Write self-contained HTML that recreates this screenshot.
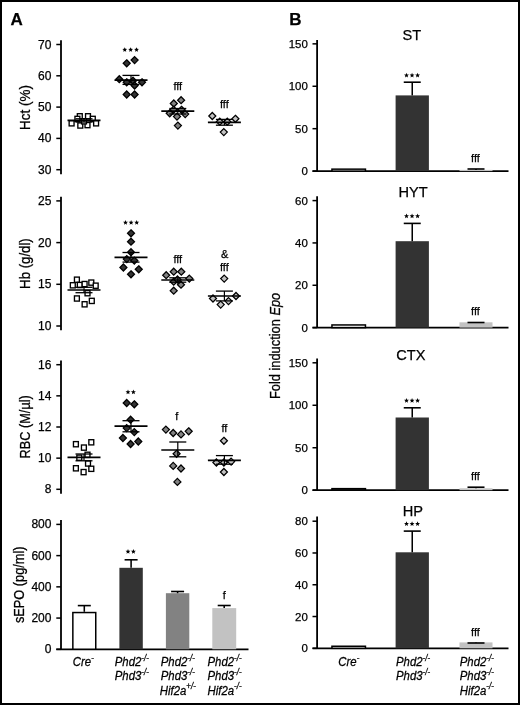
<!DOCTYPE html><html><head><meta charset="utf-8"><style>html,body{margin:0;padding:0;background:#fff;}svg{display:block;will-change:transform;}text{font-family:"Liberation Sans", sans-serif;fill:#000;stroke:#000;stroke-width:0.25px;}</style></head><body>
<svg width="520" height="705" viewBox="0 0 520 705">
<rect x="0" y="0" width="520" height="705" fill="#fff"/>
<rect x="1" y="1" width="518" height="703" fill="none" stroke="#000" stroke-width="2"/>
<text x="10.50" y="25.30" font-size="17" text-anchor="start" font-weight="bold">A</text>
<text x="289.30" y="25.30" font-size="17" text-anchor="start" font-weight="bold">B</text>
<line x1="61.00" y1="40.30" x2="61.00" y2="174.30" stroke="#000" stroke-width="1.8"/>
<line x1="56.30" y1="44.50" x2="61.00" y2="44.50" stroke="#000" stroke-width="1.5"/>
<text x="51.45" y="48.50" font-size="12" text-anchor="end" >70</text>
<line x1="56.30" y1="75.80" x2="61.00" y2="75.80" stroke="#000" stroke-width="1.5"/>
<text x="51.45" y="79.80" font-size="12" text-anchor="end" >60</text>
<line x1="56.30" y1="107.10" x2="61.00" y2="107.10" stroke="#000" stroke-width="1.5"/>
<text x="51.45" y="111.10" font-size="12" text-anchor="end" >50</text>
<line x1="56.30" y1="138.40" x2="61.00" y2="138.40" stroke="#000" stroke-width="1.5"/>
<text x="51.45" y="142.40" font-size="12" text-anchor="end" >40</text>
<line x1="56.30" y1="169.70" x2="61.00" y2="169.70" stroke="#000" stroke-width="1.5"/>
<text x="51.45" y="173.70" font-size="12" text-anchor="end" >30</text>
<text transform="translate(30.40,107.50) rotate(-90) scale(1,1.13)" font-size="13.3" text-anchor="middle" textLength="44.8" lengthAdjust="spacingAndGlyphs">Hct (%)</text>
<rect x="69.15" y="120.70" width="4.9" height="5.2" fill="#fff" stroke="#000" stroke-width="1.35"/>
<rect x="77.35" y="113.70" width="4.9" height="5.2" fill="#fff" stroke="#000" stroke-width="1.35"/>
<rect x="85.55" y="113.70" width="4.9" height="5.2" fill="#fff" stroke="#000" stroke-width="1.35"/>
<rect x="74.95" y="116.30" width="4.9" height="5.2" fill="#fff" stroke="#000" stroke-width="1.35"/>
<rect x="90.35" y="116.30" width="4.9" height="5.2" fill="#fff" stroke="#000" stroke-width="1.35"/>
<rect x="77.85" y="122.90" width="4.9" height="5.2" fill="#fff" stroke="#000" stroke-width="1.35"/>
<rect x="85.05" y="122.50" width="4.9" height="5.2" fill="#fff" stroke="#000" stroke-width="1.35"/>
<rect x="93.65" y="120.70" width="4.9" height="5.2" fill="#fff" stroke="#000" stroke-width="1.35"/>
<rect x="81.55" y="118.70" width="4.9" height="5.2" fill="#fff" stroke="#000" stroke-width="1.35"/>
<line x1="67.50" y1="120.40" x2="100.50" y2="120.40" stroke="#000" stroke-width="1.7"/>
<line x1="84.00" y1="118.80" x2="84.00" y2="122.00" stroke="#000" stroke-width="1.2"/>
<line x1="75.50" y1="118.80" x2="92.50" y2="118.80" stroke="#000" stroke-width="1.3"/>
<line x1="75.50" y1="122.00" x2="92.50" y2="122.00" stroke="#000" stroke-width="1.3"/>
<path d="M126.70 59.80L130.20 63.30L126.70 66.80L123.20 63.30Z" fill="#333333" stroke="#000" stroke-width="1.25"/>
<path d="M134.60 56.60L138.10 60.10L134.60 63.60L131.10 60.10Z" fill="#333333" stroke="#000" stroke-width="1.25"/>
<path d="M119.30 75.70L122.80 79.20L119.30 82.70L115.80 79.20Z" fill="#333333" stroke="#000" stroke-width="1.25"/>
<path d="M126.70 78.80L130.20 82.30L126.70 85.80L123.20 82.30Z" fill="#333333" stroke="#000" stroke-width="1.25"/>
<path d="M133.00 77.20L136.50 80.70L133.00 84.20L129.50 80.70Z" fill="#333333" stroke="#000" stroke-width="1.25"/>
<path d="M142.00 78.80L145.50 82.30L142.00 85.80L138.50 82.30Z" fill="#333333" stroke="#000" stroke-width="1.25"/>
<path d="M134.60 82.00L138.10 85.50L134.60 89.00L131.10 85.50Z" fill="#333333" stroke="#000" stroke-width="1.25"/>
<path d="M126.70 91.00L130.20 94.50L126.70 98.00L123.20 94.50Z" fill="#333333" stroke="#000" stroke-width="1.25"/>
<path d="M134.60 91.00L138.10 94.50L134.60 98.00L131.10 94.50Z" fill="#333333" stroke="#000" stroke-width="1.25"/>
<line x1="114.50" y1="80.20" x2="147.50" y2="80.20" stroke="#000" stroke-width="1.7"/>
<line x1="131.00" y1="75.40" x2="131.00" y2="84.40" stroke="#000" stroke-width="1.2"/>
<line x1="122.50" y1="75.40" x2="139.50" y2="75.40" stroke="#000" stroke-width="1.3"/>
<line x1="122.50" y1="84.40" x2="139.50" y2="84.40" stroke="#000" stroke-width="1.3"/>
<polygon points="124.75,47.20 125.43,48.82 127.18,48.96 125.84,50.11 126.25,51.81 124.75,50.90 123.25,51.81 123.66,50.11 122.32,48.96 124.07,48.82" fill="#000"/>
<polygon points="130.65,47.20 131.33,48.82 133.08,48.96 131.74,50.11 132.15,51.81 130.65,50.90 129.15,51.81 129.56,50.11 128.22,48.96 129.97,48.82" fill="#000"/>
<polygon points="136.55,47.20 137.23,48.82 138.98,48.96 137.64,50.11 138.05,51.81 136.55,50.90 135.05,51.81 135.46,50.11 134.12,48.96 135.87,48.82" fill="#000"/>
<path d="M173.80 100.00L177.30 103.50L173.80 107.00L170.30 103.50Z" fill="#828282" stroke="#000" stroke-width="1.25"/>
<path d="M181.10 96.70L184.60 100.20L181.10 103.70L177.60 100.20Z" fill="#828282" stroke="#000" stroke-width="1.25"/>
<path d="M169.70 109.80L173.20 113.30L169.70 116.80L166.20 113.30Z" fill="#828282" stroke="#000" stroke-width="1.25"/>
<path d="M177.00 113.10L180.50 116.60L177.00 120.10L173.50 116.60Z" fill="#828282" stroke="#000" stroke-width="1.25"/>
<path d="M185.20 110.60L188.70 114.10L185.20 117.60L181.70 114.10Z" fill="#828282" stroke="#000" stroke-width="1.25"/>
<path d="M177.90 122.10L181.40 125.60L177.90 129.10L174.40 125.60Z" fill="#828282" stroke="#000" stroke-width="1.25"/>
<path d="M173.50 106.30L177.00 109.80L173.50 113.30L170.00 109.80Z" fill="#828282" stroke="#000" stroke-width="1.25"/>
<path d="M181.50 106.30L185.00 109.80L181.50 113.30L178.00 109.80Z" fill="#828282" stroke="#000" stroke-width="1.25"/>
<line x1="161.30" y1="111.20" x2="194.30" y2="111.20" stroke="#000" stroke-width="1.7"/>
<line x1="177.80" y1="108.50" x2="177.80" y2="114.00" stroke="#000" stroke-width="1.2"/>
<line x1="169.30" y1="108.50" x2="186.30" y2="108.50" stroke="#000" stroke-width="1.3"/>
<line x1="169.30" y1="114.00" x2="186.30" y2="114.00" stroke="#000" stroke-width="1.3"/>
<text x="177.80" y="90.00" font-size="11" text-anchor="middle" stroke-width="0.35">fff</text>
<path d="M212.30 112.50L215.80 116.00L212.30 119.50L208.80 116.00Z" fill="#c2c2c2" stroke="#000" stroke-width="1.25"/>
<path d="M235.40 115.30L238.90 118.80L235.40 122.30L231.90 118.80Z" fill="#c2c2c2" stroke="#000" stroke-width="1.25"/>
<path d="M219.80 118.20L223.30 121.70L219.80 125.20L216.30 121.70Z" fill="#c2c2c2" stroke="#000" stroke-width="1.25"/>
<path d="M227.30 118.20L230.80 121.70L227.30 125.20L223.80 121.70Z" fill="#c2c2c2" stroke="#000" stroke-width="1.25"/>
<path d="M223.80 128.60L227.30 132.10L223.80 135.60L220.30 132.10Z" fill="#c2c2c2" stroke="#000" stroke-width="1.25"/>
<line x1="207.90" y1="122.30" x2="240.90" y2="122.30" stroke="#000" stroke-width="1.7"/>
<line x1="224.40" y1="119.40" x2="224.40" y2="125.20" stroke="#000" stroke-width="1.2"/>
<line x1="215.90" y1="119.40" x2="232.90" y2="119.40" stroke="#000" stroke-width="1.3"/>
<line x1="215.90" y1="125.20" x2="232.90" y2="125.20" stroke="#000" stroke-width="1.3"/>
<text x="224.40" y="107.70" font-size="11" text-anchor="middle" stroke-width="0.35">fff</text>
<line x1="61.00" y1="196.70" x2="61.00" y2="330.30" stroke="#000" stroke-width="1.8"/>
<line x1="56.30" y1="200.90" x2="61.00" y2="200.90" stroke="#000" stroke-width="1.5"/>
<text x="51.45" y="204.90" font-size="12" text-anchor="end" >25</text>
<line x1="56.30" y1="242.60" x2="61.00" y2="242.60" stroke="#000" stroke-width="1.5"/>
<text x="51.45" y="246.60" font-size="12" text-anchor="end" >20</text>
<line x1="56.30" y1="284.30" x2="61.00" y2="284.30" stroke="#000" stroke-width="1.5"/>
<text x="51.45" y="288.30" font-size="12" text-anchor="end" >15</text>
<line x1="56.30" y1="326.00" x2="61.00" y2="326.00" stroke="#000" stroke-width="1.5"/>
<text x="51.45" y="330.00" font-size="12" text-anchor="end" >10</text>
<text transform="translate(30.40,263.60) rotate(-90) scale(1,1.13)" font-size="13.3" text-anchor="middle" textLength="50.6" lengthAdjust="spacingAndGlyphs">Hb (g/dl)</text>
<rect x="74.45" y="277.10" width="4.9" height="5.2" fill="#fff" stroke="#000" stroke-width="1.35"/>
<rect x="70.35" y="282.70" width="4.9" height="5.2" fill="#fff" stroke="#000" stroke-width="1.35"/>
<rect x="77.35" y="282.40" width="4.9" height="5.2" fill="#fff" stroke="#000" stroke-width="1.35"/>
<rect x="82.15" y="281.45" width="4.9" height="5.2" fill="#fff" stroke="#000" stroke-width="1.35"/>
<rect x="88.85" y="280.00" width="4.9" height="5.2" fill="#fff" stroke="#000" stroke-width="1.35"/>
<rect x="93.25" y="283.10" width="4.9" height="5.2" fill="#fff" stroke="#000" stroke-width="1.35"/>
<rect x="85.05" y="290.60" width="4.9" height="5.2" fill="#fff" stroke="#000" stroke-width="1.35"/>
<rect x="74.45" y="295.90" width="4.9" height="5.2" fill="#fff" stroke="#000" stroke-width="1.35"/>
<rect x="82.15" y="301.70" width="4.9" height="5.2" fill="#fff" stroke="#000" stroke-width="1.35"/>
<rect x="89.35" y="298.30" width="4.9" height="5.2" fill="#fff" stroke="#000" stroke-width="1.35"/>
<line x1="67.50" y1="290.00" x2="100.50" y2="290.00" stroke="#000" stroke-width="1.7"/>
<line x1="84.00" y1="287.30" x2="84.00" y2="292.70" stroke="#000" stroke-width="1.2"/>
<line x1="75.50" y1="287.30" x2="92.50" y2="287.30" stroke="#000" stroke-width="1.3"/>
<line x1="75.50" y1="292.70" x2="92.50" y2="292.70" stroke="#000" stroke-width="1.3"/>
<path d="M131.00 229.80L134.50 233.30L131.00 236.80L127.50 233.30Z" fill="#333333" stroke="#000" stroke-width="1.25"/>
<path d="M131.00 238.20L134.50 241.70L131.00 245.20L127.50 241.70Z" fill="#333333" stroke="#000" stroke-width="1.25"/>
<path d="M131.00 248.70L134.50 252.20L131.00 255.70L127.50 252.20Z" fill="#333333" stroke="#000" stroke-width="1.25"/>
<path d="M126.80 255.60L130.30 259.10L126.80 262.60L123.30 259.10Z" fill="#333333" stroke="#000" stroke-width="1.25"/>
<path d="M134.30 257.10L137.80 260.60L134.30 264.10L130.80 260.60Z" fill="#333333" stroke="#000" stroke-width="1.25"/>
<path d="M123.40 264.00L126.90 267.50L123.40 271.00L119.90 267.50Z" fill="#333333" stroke="#000" stroke-width="1.25"/>
<path d="M138.75 265.80L142.25 269.30L138.75 272.80L135.25 269.30Z" fill="#333333" stroke="#000" stroke-width="1.25"/>
<path d="M131.00 270.80L134.50 274.30L131.00 277.80L127.50 274.30Z" fill="#333333" stroke="#000" stroke-width="1.25"/>
<line x1="114.50" y1="257.40" x2="147.50" y2="257.40" stroke="#000" stroke-width="1.7"/>
<line x1="131.00" y1="252.50" x2="131.00" y2="262.10" stroke="#000" stroke-width="1.2"/>
<line x1="122.50" y1="252.50" x2="139.50" y2="252.50" stroke="#000" stroke-width="1.3"/>
<line x1="122.50" y1="262.10" x2="139.50" y2="262.10" stroke="#000" stroke-width="1.3"/>
<polygon points="125.50,220.10 126.18,221.72 127.93,221.86 126.59,223.01 127.00,224.71 125.50,223.80 124.00,224.71 124.41,223.01 123.07,221.86 124.82,221.72" fill="#000"/>
<polygon points="131.10,220.10 131.78,221.72 133.53,221.86 132.19,223.01 132.60,224.71 131.10,223.80 129.60,224.71 130.01,223.01 128.67,221.86 130.42,221.72" fill="#000"/>
<polygon points="136.70,220.10 137.38,221.72 139.13,221.86 137.79,223.01 138.20,224.71 136.70,223.80 135.20,224.71 135.61,223.01 134.27,221.86 136.02,221.72" fill="#000"/>
<path d="M166.20 271.70L169.70 275.20L166.20 278.70L162.70 275.20Z" fill="#828282" stroke="#000" stroke-width="1.25"/>
<path d="M173.70 268.20L177.20 271.70L173.70 275.20L170.20 271.70Z" fill="#828282" stroke="#000" stroke-width="1.25"/>
<path d="M181.30 268.20L184.80 271.70L181.30 275.20L177.80 271.70Z" fill="#828282" stroke="#000" stroke-width="1.25"/>
<path d="M173.70 278.20L177.20 281.70L173.70 285.20L170.20 281.70Z" fill="#828282" stroke="#000" stroke-width="1.25"/>
<path d="M181.00 281.20L184.50 284.70L181.00 288.20L177.50 284.70Z" fill="#828282" stroke="#000" stroke-width="1.25"/>
<path d="M189.30 275.10L192.80 278.60L189.30 282.10L185.80 278.60Z" fill="#828282" stroke="#000" stroke-width="1.25"/>
<path d="M173.70 287.20L177.20 290.70L173.70 294.20L170.20 290.70Z" fill="#828282" stroke="#000" stroke-width="1.25"/>
<path d="M177.50 276.00L181.00 279.50L177.50 283.00L174.00 279.50Z" fill="#828282" stroke="#000" stroke-width="1.25"/>
<line x1="161.30" y1="280.00" x2="194.30" y2="280.00" stroke="#000" stroke-width="1.7"/>
<line x1="177.80" y1="277.80" x2="177.80" y2="282.20" stroke="#000" stroke-width="1.2"/>
<line x1="169.30" y1="277.80" x2="186.30" y2="277.80" stroke="#000" stroke-width="1.3"/>
<line x1="169.30" y1="282.20" x2="186.30" y2="282.20" stroke="#000" stroke-width="1.3"/>
<text x="177.80" y="263.40" font-size="11" text-anchor="middle" stroke-width="0.35">fff</text>
<path d="M224.20 275.10L227.70 278.60L224.20 282.10L220.70 278.60Z" fill="#c2c2c2" stroke="#000" stroke-width="1.25"/>
<path d="M213.00 295.00L216.50 298.50L213.00 302.00L209.50 298.50Z" fill="#c2c2c2" stroke="#000" stroke-width="1.25"/>
<path d="M220.70 301.10L224.20 304.60L220.70 308.10L217.20 304.60Z" fill="#c2c2c2" stroke="#000" stroke-width="1.25"/>
<path d="M228.50 297.60L232.00 301.10L228.50 304.60L225.00 301.10Z" fill="#c2c2c2" stroke="#000" stroke-width="1.25"/>
<path d="M236.00 292.50L239.50 296.00L236.00 299.50L232.50 296.00Z" fill="#c2c2c2" stroke="#000" stroke-width="1.25"/>
<line x1="207.90" y1="296.00" x2="240.90" y2="296.00" stroke="#000" stroke-width="1.7"/>
<line x1="224.40" y1="291.10" x2="224.40" y2="300.90" stroke="#000" stroke-width="1.2"/>
<line x1="215.90" y1="291.10" x2="232.90" y2="291.10" stroke="#000" stroke-width="1.3"/>
<line x1="215.90" y1="300.90" x2="232.90" y2="300.90" stroke="#000" stroke-width="1.3"/>
<text x="224.40" y="270.80" font-size="11" text-anchor="middle" stroke-width="0.35">fff</text>
<text x="224.60" y="257.90" font-size="11" text-anchor="middle" stroke-width="0.35">&amp;</text>
<line x1="61.00" y1="360.40" x2="61.00" y2="493.70" stroke="#000" stroke-width="1.8"/>
<line x1="56.30" y1="364.70" x2="61.00" y2="364.70" stroke="#000" stroke-width="1.5"/>
<text x="51.45" y="368.70" font-size="12" text-anchor="end" >16</text>
<line x1="56.30" y1="395.85" x2="61.00" y2="395.85" stroke="#000" stroke-width="1.5"/>
<text x="51.45" y="399.85" font-size="12" text-anchor="end" >14</text>
<line x1="56.30" y1="427.00" x2="61.00" y2="427.00" stroke="#000" stroke-width="1.5"/>
<text x="51.45" y="431.00" font-size="12" text-anchor="end" >12</text>
<line x1="56.30" y1="458.15" x2="61.00" y2="458.15" stroke="#000" stroke-width="1.5"/>
<text x="51.45" y="462.15" font-size="12" text-anchor="end" >10</text>
<line x1="56.30" y1="489.30" x2="61.00" y2="489.30" stroke="#000" stroke-width="1.5"/>
<text x="51.45" y="493.30" font-size="12" text-anchor="end" >8</text>
<text transform="translate(29.60,426.80) rotate(-90) scale(1,1.13)" font-size="13.3" text-anchor="middle" textLength="63.2" lengthAdjust="spacingAndGlyphs">RBC (M/µl)</text>
<rect x="73.45" y="441.60" width="4.9" height="5.2" fill="#fff" stroke="#000" stroke-width="1.35"/>
<rect x="88.85" y="439.70" width="4.9" height="5.2" fill="#fff" stroke="#000" stroke-width="1.35"/>
<rect x="81.45" y="445.00" width="4.9" height="5.2" fill="#fff" stroke="#000" stroke-width="1.35"/>
<rect x="85.05" y="452.20" width="4.9" height="5.2" fill="#fff" stroke="#000" stroke-width="1.35"/>
<rect x="76.85" y="455.10" width="4.9" height="5.2" fill="#fff" stroke="#000" stroke-width="1.35"/>
<rect x="85.55" y="460.90" width="4.9" height="5.2" fill="#fff" stroke="#000" stroke-width="1.35"/>
<rect x="73.45" y="465.70" width="4.9" height="5.2" fill="#fff" stroke="#000" stroke-width="1.35"/>
<rect x="88.85" y="466.20" width="4.9" height="5.2" fill="#fff" stroke="#000" stroke-width="1.35"/>
<rect x="81.15" y="469.50" width="4.9" height="5.2" fill="#fff" stroke="#000" stroke-width="1.35"/>
<line x1="67.50" y1="457.40" x2="100.50" y2="457.40" stroke="#000" stroke-width="1.7"/>
<line x1="84.00" y1="454.00" x2="84.00" y2="460.80" stroke="#000" stroke-width="1.2"/>
<line x1="75.50" y1="454.00" x2="92.50" y2="454.00" stroke="#000" stroke-width="1.3"/>
<line x1="75.50" y1="460.80" x2="92.50" y2="460.80" stroke="#000" stroke-width="1.3"/>
<path d="M126.70 399.50L130.20 403.00L126.70 406.50L123.20 403.00Z" fill="#333333" stroke="#000" stroke-width="1.25"/>
<path d="M134.30 400.80L137.80 404.30L134.30 407.80L130.80 404.30Z" fill="#333333" stroke="#000" stroke-width="1.25"/>
<path d="M130.60 416.20L134.10 419.70L130.60 423.20L127.10 419.70Z" fill="#333333" stroke="#000" stroke-width="1.25"/>
<path d="M126.70 424.60L130.20 428.10L126.70 431.60L123.20 428.10Z" fill="#333333" stroke="#000" stroke-width="1.25"/>
<path d="M134.30 428.60L137.80 432.10L134.30 435.60L130.80 432.10Z" fill="#333333" stroke="#000" stroke-width="1.25"/>
<path d="M122.90 434.50L126.40 438.00L122.90 441.50L119.40 438.00Z" fill="#333333" stroke="#000" stroke-width="1.25"/>
<path d="M130.60 440.50L134.10 444.00L130.60 447.50L127.10 444.00Z" fill="#333333" stroke="#000" stroke-width="1.25"/>
<path d="M138.30 438.00L141.80 441.50L138.30 445.00L134.80 441.50Z" fill="#333333" stroke="#000" stroke-width="1.25"/>
<line x1="114.50" y1="426.10" x2="147.50" y2="426.10" stroke="#000" stroke-width="1.7"/>
<line x1="131.00" y1="420.70" x2="131.00" y2="431.80" stroke="#000" stroke-width="1.2"/>
<line x1="122.50" y1="420.70" x2="139.50" y2="420.70" stroke="#000" stroke-width="1.3"/>
<line x1="122.50" y1="431.80" x2="139.50" y2="431.80" stroke="#000" stroke-width="1.3"/>
<polygon points="128.00,389.60 128.68,391.22 130.43,391.36 129.09,392.51 129.50,394.21 128.00,393.30 126.50,394.21 126.91,392.51 125.57,391.36 127.32,391.22" fill="#000"/>
<polygon points="133.40,389.60 134.08,391.22 135.83,391.36 134.49,392.51 134.90,394.21 133.40,393.30 131.90,394.21 132.31,392.51 130.97,391.36 132.72,391.22" fill="#000"/>
<path d="M165.90 426.10L169.40 429.60L165.90 433.10L162.40 429.60Z" fill="#828282" stroke="#000" stroke-width="1.25"/>
<path d="M173.20 429.50L176.70 433.00L173.20 436.50L169.70 433.00Z" fill="#828282" stroke="#000" stroke-width="1.25"/>
<path d="M181.00 430.90L184.50 434.40L181.00 437.90L177.50 434.40Z" fill="#828282" stroke="#000" stroke-width="1.25"/>
<path d="M188.70 427.80L192.20 431.30L188.70 434.80L185.20 431.30Z" fill="#828282" stroke="#000" stroke-width="1.25"/>
<path d="M176.60 450.30L180.10 453.80L176.60 457.30L173.10 453.80Z" fill="#828282" stroke="#000" stroke-width="1.25"/>
<path d="M173.20 462.40L176.70 465.90L173.20 469.40L169.70 465.90Z" fill="#828282" stroke="#000" stroke-width="1.25"/>
<path d="M181.00 465.00L184.50 468.50L181.00 472.00L177.50 468.50Z" fill="#828282" stroke="#000" stroke-width="1.25"/>
<path d="M177.40 478.40L180.90 481.90L177.40 485.40L173.90 481.90Z" fill="#828282" stroke="#000" stroke-width="1.25"/>
<line x1="161.30" y1="450.00" x2="194.30" y2="450.00" stroke="#000" stroke-width="1.7"/>
<line x1="177.80" y1="442.00" x2="177.80" y2="456.80" stroke="#000" stroke-width="1.2"/>
<line x1="169.30" y1="442.00" x2="186.30" y2="442.00" stroke="#000" stroke-width="1.3"/>
<line x1="169.30" y1="456.80" x2="186.30" y2="456.80" stroke="#000" stroke-width="1.3"/>
<text x="176.70" y="420.10" font-size="11" text-anchor="middle" stroke-width="0.35">f</text>
<path d="M223.90 437.30L227.40 440.80L223.90 444.30L220.40 440.80Z" fill="#c2c2c2" stroke="#000" stroke-width="1.25"/>
<path d="M216.40 459.00L219.90 462.50L216.40 466.00L212.90 462.50Z" fill="#c2c2c2" stroke="#000" stroke-width="1.25"/>
<path d="M223.90 459.00L227.40 462.50L223.90 466.00L220.40 462.50Z" fill="#c2c2c2" stroke="#000" stroke-width="1.25"/>
<path d="M231.10 458.10L234.60 461.60L231.10 465.10L227.60 461.60Z" fill="#c2c2c2" stroke="#000" stroke-width="1.25"/>
<path d="M223.90 468.50L227.40 472.00L223.90 475.50L220.40 472.00Z" fill="#c2c2c2" stroke="#000" stroke-width="1.25"/>
<line x1="207.90" y1="460.40" x2="240.90" y2="460.40" stroke="#000" stroke-width="1.7"/>
<line x1="224.40" y1="455.60" x2="224.40" y2="464.20" stroke="#000" stroke-width="1.2"/>
<line x1="215.90" y1="455.60" x2="232.90" y2="455.60" stroke="#000" stroke-width="1.3"/>
<line x1="215.90" y1="464.20" x2="232.90" y2="464.20" stroke="#000" stroke-width="1.3"/>
<text x="224.40" y="431.70" font-size="11" text-anchor="middle" stroke-width="0.35">ff</text>
<line x1="61.00" y1="520.00" x2="61.00" y2="649.30" stroke="#000" stroke-width="1.8"/>
<line x1="56.30" y1="524.40" x2="61.00" y2="524.40" stroke="#000" stroke-width="1.5"/>
<text x="51.45" y="528.40" font-size="12" text-anchor="end" >800</text>
<line x1="56.30" y1="555.62" x2="61.00" y2="555.62" stroke="#000" stroke-width="1.5"/>
<text x="51.45" y="559.62" font-size="12" text-anchor="end" >600</text>
<line x1="56.30" y1="586.85" x2="61.00" y2="586.85" stroke="#000" stroke-width="1.5"/>
<text x="51.45" y="590.85" font-size="12" text-anchor="end" >400</text>
<line x1="56.30" y1="618.07" x2="61.00" y2="618.07" stroke="#000" stroke-width="1.5"/>
<text x="51.45" y="622.07" font-size="12" text-anchor="end" >200</text>
<line x1="56.30" y1="649.30" x2="61.00" y2="649.30" stroke="#000" stroke-width="1.5"/>
<text x="51.45" y="653.30" font-size="12" text-anchor="end" >0</text>
<line x1="56.30" y1="649.30" x2="248.50" y2="649.30" stroke="#000" stroke-width="1.8"/>
<text transform="translate(23.60,584.80) rotate(-90) scale(1,1.13)" font-size="13.3" text-anchor="middle" textLength="76.5" lengthAdjust="spacingAndGlyphs">sEPO (pg/ml)</text>
<rect x="72.85" y="612.55" width="22.90" height="36.70" fill="#fff" stroke="#000" stroke-width="1.5"/>
<line x1="84.30" y1="611.80" x2="84.30" y2="605.60" stroke="#000" stroke-width="1.55"/>
<line x1="77.80" y1="605.60" x2="90.80" y2="605.60" stroke="#000" stroke-width="1.6"/>
<rect x="119.40" y="567.80" width="23.40" height="81.45" fill="#333333"/>
<line x1="131.10" y1="567.80" x2="131.10" y2="559.80" stroke="#000" stroke-width="1.55"/>
<line x1="124.60" y1="559.80" x2="137.60" y2="559.80" stroke="#000" stroke-width="1.6"/>
<polygon points="128.00,549.10 128.68,550.72 130.43,550.86 129.09,552.01 129.50,553.71 128.00,552.80 126.50,553.71 126.91,552.01 125.57,550.86 127.32,550.72" fill="#000"/>
<polygon points="133.40,549.10 134.08,550.72 135.83,550.86 134.49,552.01 134.90,553.71 133.40,552.80 131.90,553.71 132.31,552.01 130.97,550.86 132.72,550.72" fill="#000"/>
<rect x="165.90" y="593.20" width="23.40" height="56.05" fill="#828282"/>
<line x1="177.60" y1="593.20" x2="177.60" y2="591.50" stroke="#000" stroke-width="1.55"/>
<line x1="171.10" y1="591.50" x2="184.10" y2="591.50" stroke="#000" stroke-width="1.6"/>
<rect x="212.30" y="608.10" width="23.90" height="41.15" fill="#c2c2c2"/>
<line x1="224.20" y1="608.10" x2="224.20" y2="605.50" stroke="#000" stroke-width="1.55"/>
<line x1="217.70" y1="605.50" x2="230.70" y2="605.50" stroke="#000" stroke-width="1.6"/>
<text x="224.20" y="598.50" font-size="11" text-anchor="middle" stroke-width="0.35">f</text>
<text transform="translate(83.30,666.00) scale(0.965,1.06)" font-size="11.8" font-style="italic" text-anchor="middle">Cre<tspan font-size="8.2" dy="-4.9">-</tspan></text>
<text transform="translate(131.80,666.00) scale(0.965,1.06)" font-size="11.8" font-style="italic" text-anchor="middle">Phd2<tspan font-size="8.2" dy="-4.9">-/-</tspan></text>
<text transform="translate(131.80,680.25) scale(0.965,1.06)" font-size="11.8" font-style="italic" text-anchor="middle">Phd3<tspan font-size="8.2" dy="-4.9">-/-</tspan></text>
<text transform="translate(177.80,666.00) scale(0.965,1.06)" font-size="11.8" font-style="italic" text-anchor="middle">Phd2<tspan font-size="8.2" dy="-4.9">-/-</tspan></text>
<text transform="translate(177.80,680.25) scale(0.965,1.06)" font-size="11.8" font-style="italic" text-anchor="middle">Phd3<tspan font-size="8.2" dy="-4.9">-/-</tspan></text>
<text transform="translate(177.80,694.50) scale(0.965,1.06)" font-size="11.8" font-style="italic" text-anchor="middle">Hif2a<tspan font-size="8.2" dy="-4.9">+/-</tspan></text>
<text transform="translate(224.50,666.00) scale(0.965,1.06)" font-size="11.8" font-style="italic" text-anchor="middle">Phd2<tspan font-size="8.2" dy="-4.9">-/-</tspan></text>
<text transform="translate(224.50,680.25) scale(0.965,1.06)" font-size="11.8" font-style="italic" text-anchor="middle">Phd3<tspan font-size="8.2" dy="-4.9">-/-</tspan></text>
<text transform="translate(224.50,694.50) scale(0.965,1.06)" font-size="11.8" font-style="italic" text-anchor="middle">Hif2a<tspan font-size="8.2" dy="-4.9">-/-</tspan></text>
<line x1="317.10" y1="40.00" x2="317.10" y2="171.10" stroke="#000" stroke-width="1.8"/>
<line x1="312.50" y1="43.85" x2="317.10" y2="43.85" stroke="#000" stroke-width="1.5"/>
<text x="307.75" y="47.85" font-size="11.45" text-anchor="end" >150</text>
<line x1="312.50" y1="86.27" x2="317.10" y2="86.27" stroke="#000" stroke-width="1.5"/>
<text x="307.75" y="90.27" font-size="11.45" text-anchor="end" >100</text>
<line x1="312.50" y1="128.68" x2="317.10" y2="128.68" stroke="#000" stroke-width="1.5"/>
<text x="307.75" y="132.68" font-size="11.45" text-anchor="end" >50</text>
<line x1="312.50" y1="171.10" x2="317.10" y2="171.10" stroke="#000" stroke-width="1.5"/>
<text x="307.75" y="175.10" font-size="11.45" text-anchor="end" >0</text>
<line x1="312.50" y1="171.10" x2="508.50" y2="171.10" stroke="#000" stroke-width="1.8"/>
<text x="411.90" y="40.20" font-size="14.6" text-anchor="middle" >ST</text>
<rect x="331.95" y="169.15" width="33.50" height="1.95" fill="#fff" stroke="#000" stroke-width="1.5"/>
<rect x="395.60" y="95.40" width="33.30" height="75.70" fill="#333333"/>
<line x1="412.25" y1="95.40" x2="412.25" y2="82.20" stroke="#000" stroke-width="1.55"/>
<line x1="403.75" y1="82.20" x2="420.75" y2="82.20" stroke="#000" stroke-width="1.6"/>
<polygon points="406.50,72.85 407.18,74.47 408.93,74.61 407.59,75.76 408.00,77.46 406.50,76.55 405.00,77.46 405.41,75.76 404.07,74.61 405.82,74.47" fill="#000"/>
<polygon points="412.05,72.85 412.73,74.47 414.48,74.61 413.14,75.76 413.55,77.46 412.05,76.55 410.55,77.46 410.96,75.76 409.62,74.61 411.37,74.47" fill="#000"/>
<polygon points="417.60,72.85 418.28,74.47 420.03,74.61 418.69,75.76 419.10,77.46 417.60,76.55 416.10,77.46 416.51,75.76 415.17,74.61 416.92,74.47" fill="#000"/>
<rect x="459.50" y="169.90" width="33.00" height="1.20" fill="#c2c2c2"/>
<line x1="476.00" y1="169.90" x2="476.00" y2="169.00" stroke="#000" stroke-width="1.55"/>
<line x1="467.50" y1="169.00" x2="484.50" y2="169.00" stroke="#000" stroke-width="1.6"/>
<text x="475.50" y="161.80" font-size="11" text-anchor="middle" stroke-width="0.35">fff</text>
<line x1="317.10" y1="196.20" x2="317.10" y2="327.60" stroke="#000" stroke-width="1.8"/>
<line x1="312.50" y1="200.60" x2="317.10" y2="200.60" stroke="#000" stroke-width="1.5"/>
<text x="307.75" y="204.60" font-size="11.45" text-anchor="end" >60</text>
<line x1="312.50" y1="242.93" x2="317.10" y2="242.93" stroke="#000" stroke-width="1.5"/>
<text x="307.75" y="246.93" font-size="11.45" text-anchor="end" >40</text>
<line x1="312.50" y1="285.27" x2="317.10" y2="285.27" stroke="#000" stroke-width="1.5"/>
<text x="307.75" y="289.27" font-size="11.45" text-anchor="end" >20</text>
<line x1="312.50" y1="327.60" x2="317.10" y2="327.60" stroke="#000" stroke-width="1.5"/>
<text x="307.75" y="331.60" font-size="11.45" text-anchor="end" >0</text>
<line x1="312.50" y1="327.60" x2="508.50" y2="327.60" stroke="#000" stroke-width="1.8"/>
<text x="413.00" y="196.90" font-size="14.6" text-anchor="middle" >HYT</text>
<rect x="331.95" y="324.95" width="33.50" height="2.65" fill="#fff" stroke="#000" stroke-width="1.5"/>
<rect x="395.60" y="241.20" width="33.30" height="86.40" fill="#333333"/>
<line x1="412.25" y1="241.20" x2="412.25" y2="223.40" stroke="#000" stroke-width="1.55"/>
<line x1="403.75" y1="223.40" x2="420.75" y2="223.40" stroke="#000" stroke-width="1.6"/>
<polygon points="406.50,213.60 407.18,215.22 408.93,215.36 407.59,216.51 408.00,218.21 406.50,217.30 405.00,218.21 405.41,216.51 404.07,215.36 405.82,215.22" fill="#000"/>
<polygon points="412.05,213.60 412.73,215.22 414.48,215.36 413.14,216.51 413.55,218.21 412.05,217.30 410.55,218.21 410.96,216.51 409.62,215.36 411.37,215.22" fill="#000"/>
<polygon points="417.60,213.60 418.28,215.22 420.03,215.36 418.69,216.51 419.10,218.21 417.60,217.30 416.10,218.21 416.51,216.51 415.17,215.36 416.92,215.22" fill="#000"/>
<rect x="459.50" y="322.30" width="33.00" height="5.30" fill="#c2c2c2"/>
<line x1="476.00" y1="322.30" x2="476.00" y2="322.50" stroke="#000" stroke-width="1.55"/>
<line x1="467.50" y1="322.50" x2="484.50" y2="322.50" stroke="#000" stroke-width="1.6"/>
<text x="475.50" y="314.90" font-size="11" text-anchor="middle" stroke-width="0.35">fff</text>
<line x1="317.10" y1="358.50" x2="317.10" y2="490.20" stroke="#000" stroke-width="1.8"/>
<line x1="312.50" y1="362.80" x2="317.10" y2="362.80" stroke="#000" stroke-width="1.5"/>
<text x="307.75" y="366.80" font-size="11.45" text-anchor="end" >150</text>
<line x1="312.50" y1="405.27" x2="317.10" y2="405.27" stroke="#000" stroke-width="1.5"/>
<text x="307.75" y="409.27" font-size="11.45" text-anchor="end" >100</text>
<line x1="312.50" y1="447.73" x2="317.10" y2="447.73" stroke="#000" stroke-width="1.5"/>
<text x="307.75" y="451.73" font-size="11.45" text-anchor="end" >50</text>
<line x1="312.50" y1="490.20" x2="317.10" y2="490.20" stroke="#000" stroke-width="1.5"/>
<text x="307.75" y="494.20" font-size="11.45" text-anchor="end" >0</text>
<line x1="312.50" y1="490.20" x2="508.50" y2="490.20" stroke="#000" stroke-width="1.8"/>
<text x="410.90" y="359.50" font-size="14.6" text-anchor="middle" >CTX</text>
<rect x="331.95" y="488.65" width="33.50" height="1.55" fill="#fff" stroke="#000" stroke-width="1.5"/>
<rect x="395.60" y="417.50" width="33.30" height="72.70" fill="#333333"/>
<line x1="412.25" y1="417.50" x2="412.25" y2="407.80" stroke="#000" stroke-width="1.55"/>
<line x1="403.75" y1="407.80" x2="420.75" y2="407.80" stroke="#000" stroke-width="1.6"/>
<polygon points="406.50,398.10 407.18,399.72 408.93,399.86 407.59,401.01 408.00,402.71 406.50,401.80 405.00,402.71 405.41,401.01 404.07,399.86 405.82,399.72" fill="#000"/>
<polygon points="412.05,398.10 412.73,399.72 414.48,399.86 413.14,401.01 413.55,402.71 412.05,401.80 410.55,402.71 410.96,401.01 409.62,399.86 411.37,399.72" fill="#000"/>
<polygon points="417.60,398.10 418.28,399.72 420.03,399.86 418.69,401.01 419.10,402.71 417.60,401.80 416.10,402.71 416.51,401.01 415.17,399.86 416.92,399.72" fill="#000"/>
<rect x="459.50" y="488.30" width="33.00" height="1.90" fill="#c2c2c2"/>
<line x1="476.00" y1="488.30" x2="476.00" y2="487.20" stroke="#000" stroke-width="1.55"/>
<line x1="467.50" y1="487.20" x2="484.50" y2="487.20" stroke="#000" stroke-width="1.6"/>
<text x="475.50" y="479.70" font-size="11" text-anchor="middle" stroke-width="0.35">fff</text>
<line x1="317.10" y1="516.50" x2="317.10" y2="648.30" stroke="#000" stroke-width="1.8"/>
<line x1="312.50" y1="521.20" x2="317.10" y2="521.20" stroke="#000" stroke-width="1.5"/>
<text x="307.75" y="525.20" font-size="11.45" text-anchor="end" >80</text>
<line x1="312.50" y1="552.98" x2="317.10" y2="552.98" stroke="#000" stroke-width="1.5"/>
<text x="307.75" y="556.98" font-size="11.45" text-anchor="end" >60</text>
<line x1="312.50" y1="584.75" x2="317.10" y2="584.75" stroke="#000" stroke-width="1.5"/>
<text x="307.75" y="588.75" font-size="11.45" text-anchor="end" >40</text>
<line x1="312.50" y1="616.52" x2="317.10" y2="616.52" stroke="#000" stroke-width="1.5"/>
<text x="307.75" y="620.52" font-size="11.45" text-anchor="end" >20</text>
<line x1="312.50" y1="648.30" x2="317.10" y2="648.30" stroke="#000" stroke-width="1.5"/>
<text x="307.75" y="652.30" font-size="11.45" text-anchor="end" >0</text>
<line x1="312.50" y1="648.30" x2="508.50" y2="648.30" stroke="#000" stroke-width="1.8"/>
<text x="412.80" y="516.00" font-size="14.6" text-anchor="middle" >HP</text>
<rect x="331.95" y="646.25" width="33.50" height="2.05" fill="#fff" stroke="#000" stroke-width="1.5"/>
<rect x="395.60" y="552.30" width="33.30" height="96.00" fill="#333333"/>
<line x1="412.25" y1="552.30" x2="412.25" y2="531.10" stroke="#000" stroke-width="1.55"/>
<line x1="403.75" y1="531.10" x2="420.75" y2="531.10" stroke="#000" stroke-width="1.6"/>
<polygon points="406.50,521.30 407.18,522.92 408.93,523.06 407.59,524.21 408.00,525.91 406.50,525.00 405.00,525.91 405.41,524.21 404.07,523.06 405.82,522.92" fill="#000"/>
<polygon points="412.05,521.30 412.73,522.92 414.48,523.06 413.14,524.21 413.55,525.91 412.05,525.00 410.55,525.91 410.96,524.21 409.62,523.06 411.37,522.92" fill="#000"/>
<polygon points="417.60,521.30 418.28,522.92 420.03,523.06 418.69,524.21 419.10,525.91 417.60,525.00 416.10,525.91 416.51,524.21 415.17,523.06 416.92,522.92" fill="#000"/>
<rect x="459.50" y="642.40" width="33.00" height="5.90" fill="#c2c2c2"/>
<line x1="476.00" y1="642.40" x2="476.00" y2="643.00" stroke="#000" stroke-width="1.55"/>
<line x1="467.50" y1="643.00" x2="484.50" y2="643.00" stroke="#000" stroke-width="1.6"/>
<text x="475.50" y="636.00" font-size="11" text-anchor="middle" stroke-width="0.35">fff</text>
<text transform="translate(280.00,345.90) rotate(-90) scale(1,1.13)" font-size="13.3" text-anchor="middle" textLength="106.2" lengthAdjust="spacingAndGlyphs">Fold induction <tspan font-style="italic">Epo</tspan></text>
<text transform="translate(348.80,666.00) scale(0.965,1.06)" font-size="11.8" font-style="italic" text-anchor="middle">Cre<tspan font-size="8.2" dy="-4.9">-</tspan></text>
<text transform="translate(413.00,666.00) scale(0.965,1.06)" font-size="11.8" font-style="italic" text-anchor="middle">Phd2<tspan font-size="8.2" dy="-4.9">-/-</tspan></text>
<text transform="translate(413.00,680.25) scale(0.965,1.06)" font-size="11.8" font-style="italic" text-anchor="middle">Phd3<tspan font-size="8.2" dy="-4.9">-/-</tspan></text>
<text transform="translate(476.80,666.00) scale(0.965,1.06)" font-size="11.8" font-style="italic" text-anchor="middle">Phd2<tspan font-size="8.2" dy="-4.9">-/-</tspan></text>
<text transform="translate(476.80,680.25) scale(0.965,1.06)" font-size="11.8" font-style="italic" text-anchor="middle">Phd3<tspan font-size="8.2" dy="-4.9">-/-</tspan></text>
<text transform="translate(476.80,694.50) scale(0.965,1.06)" font-size="11.8" font-style="italic" text-anchor="middle">Hif2a<tspan font-size="8.2" dy="-4.9">-/-</tspan></text>
</svg></body></html>
